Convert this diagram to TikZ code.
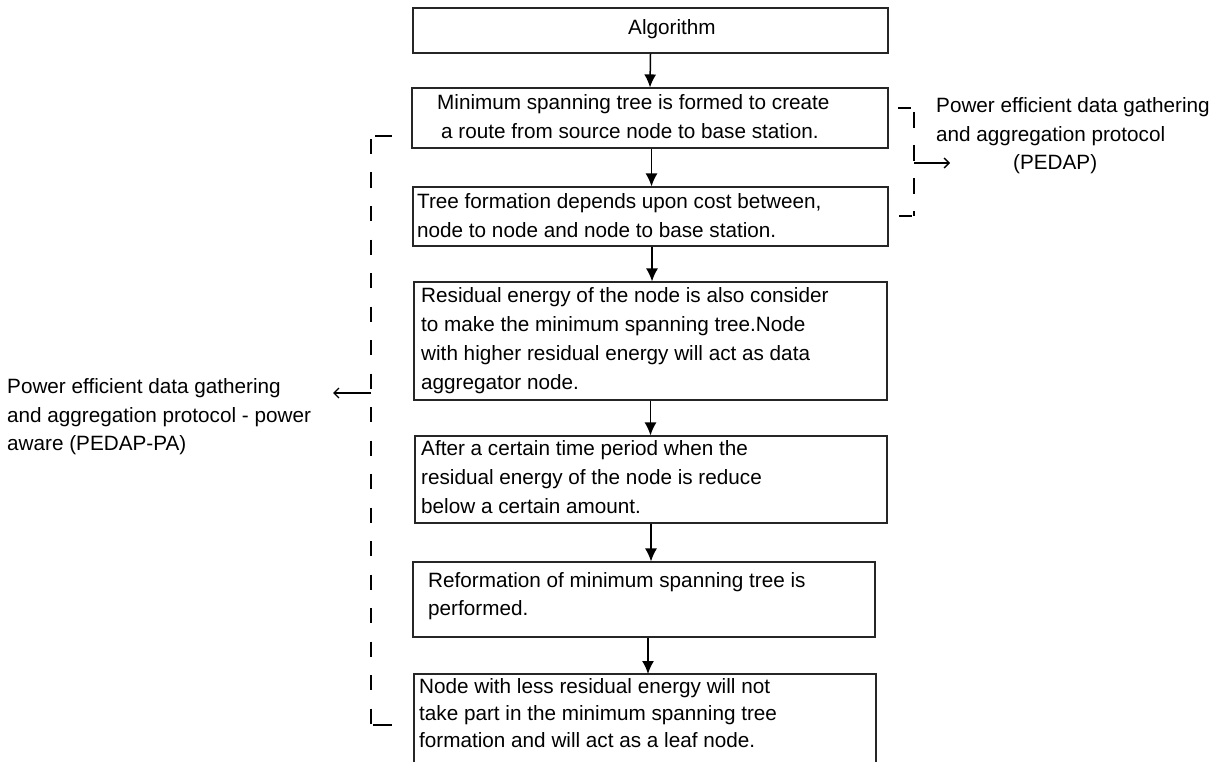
\documentclass[tikz,border=0pt]{standalone}
\usepackage{fontspec}
\setmainfont{Liberation Sans}
\usetikzlibrary{arrows.meta,calc}

\tikzset{
  stepbox/.style={draw=black!85, line width=1.1pt, rectangle, inner sep=0pt},
  txt/.style={anchor=base west, inner sep=0pt, font=\fontsize{20.7}{29}\selectfont},
  flowtip/.tip={Latex[length=13pt, width=12pt]},
  flow/.style={line width=1.5pt, arrows={-flowtip}},
  side/.style={line width=1.3pt, -{Straight Barb[length=5pt, width=10pt]}},
  bracket/.style={line width=1.8pt, dash pattern=on 15pt off 18.5pt},
  rbracket/.style={line width=1.8pt, dash pattern=on 16pt off 17pt},
  tick/.style={line width=1.8pt}
}

\begin{document}
\begin{tikzpicture}[x=1pt, y=1pt]
\useasboundingbox (0,-762) rectangle (1222,0);

% flow boxes
\node[stepbox, minimum width=475pt, minimum height=45pt]  (b1) at (650.5,-30.5) {};
\node[stepbox, minimum width=476pt, minimum height=60pt]  (b2) at (650,-118) {};
\node[stepbox, minimum width=475pt, minimum height=59pt]  (b3) at (650.5,-216.5) {};
\node[stepbox, minimum width=473pt, minimum height=118pt] (b4) at (650.5,-341) {};
\node[stepbox, minimum width=472pt, minimum height=87pt]  (b5) at (651,-479.5) {};
\node[stepbox, minimum width=462pt, minimum height=75pt]  (b6) at (644,-599.5) {};
% the last box runs on past the lower edge of the page
\coordinate (b7nw) at (414,-674);
\coordinate (b7ne) at (876,-674);
\coordinate (b7sw) at (414,-762);
\coordinate (b7se) at (876,-762);
\draw[stepbox] (b7sw) -- (b7nw) -- (b7ne) -- (b7se);
\coordinate (b7n) at ($(b7nw)!0.5!(b7ne)$);

% box texts
\node[txt] (t1)  at (628,-35)  {Algorithm};
\node[txt] (t2a) at (437,-110) {Minimum spanning tree is formed to create};
\node[txt] (t2b) at (441,-139) {a route from source node to base station.};
\node[txt] (t3a) at (417,-208) {Tree formation depends upon cost between,};
\node[txt] (t3b) at (417,-237) {node to node and node to base station.};
\node[txt] (t4a) at (421,-302) {Residual energy of the node is also consider};
\node[txt] (t4b) at (421,-331) {to make the minimum spanning tree.Node};
\node[txt] (t4c) at (421,-360) {with higher residual energy will act as data};
\node[txt] (t4d) at (421,-389) {aggregator node.};
\node[txt] (t5a) at (421,-455) {After a certain time period when the};
\node[txt] (t5b) at (421,-484) {residual energy of the node is reduce};
\node[txt] (t5c) at (421,-513) {below a certain amount.};
\node[txt] (t6a) at (428,-587) {Reformation of minimum spanning tree is};
\node[txt] (t6b) at (428,-615) {performed.};
\node[txt] (t7a) at (419,-693) {Node with less residual energy will not};
\node[txt] (t7b) at (419,-720) {take part in the minimum spanning tree};
\node[txt] (t7c) at (419,-747) {formation and will act as a leaf node.};

% side labels
\node[txt] (r1) at (936,-113) {Power efficient data gathering};
\node[txt] (r2) at (936,-142) {and aggregation protocol};
\node[txt] (r3) at (1013,-170) {(PEDAP)};
\node[txt] (l1) at (7,-393) {Power efficient data gathering};
\node[txt] (l2) at (7,-422) {and aggregation protocol - power};
\node[txt] (l3) at (7,-450) {aware (PEDAP-PA)};

% main flow
\draw[flow] (b1.south) -- (b2.north);
\draw[flow] ([xshift=1.5pt]b2.south) -- ([xshift=1.5pt]b2.south |- b3.north);
\draw[flow] ([xshift=1.5pt]b3.south) -- ([xshift=1.5pt]b3.south |- b4.north);
\draw[flow] (b4.south) -- (b4.south |- b5.north);
\draw[flow] (b5.south) -- (b5.south |- b6.north);
\draw[flow] ([xshift=4pt]b6.south) -- ([xshift=4pt]b6.south |- b7n);

% right bracket (PEDAP)
\coordinate (rtop) at (914,-112);
\coordinate (rbot) at (914,-216);
\coordinate (rmid) at (914,-163);
\coordinate (rtip) at (950,-163);
\draw[tick] (898,-108) -- (911,-108);
\draw[rbracket] (rtop) -- (rbot);
\draw[tick] (899,-216) -- (912,-216);
\draw[side] (rmid) -- (rtip);

% left bracket (PEDAP-PA)
\coordinate (ltop) at (371,-139);
\coordinate (lbot) at (371,-725);
\coordinate (lmid) at (371,-393);
\coordinate (ltip) at (333,-393);
\draw[tick] (375,-136) -- (392,-136);
\draw[bracket] (ltop) -- (lbot);
\draw[tick] (373,-725) -- (392,-725);
\draw[side] (lmid) -- (ltip);
\end{tikzpicture}
\end{document}
